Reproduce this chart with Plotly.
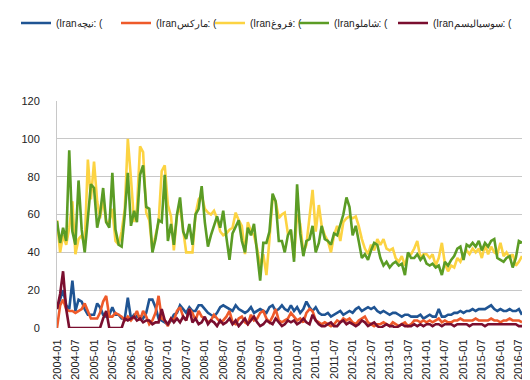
import pandas as pd
import plotly.graph_objects as go

months = pd.date_range("2004-01-01", "2016-08-01", freq="MS")

names = ["(Iranنیچه: (", "(Iranمارکس: (", "(Iranفروغ: (", "(Iranشاملو: (", "(Iranسوسیالیسم: ("]
colors = ["#1F5493", "#EE5A2A", "#FCD342", "#5B9C25", "#7A0E2F"]

nietzsche = [10, 15, 20, 12, 10, 25, 9, 15, 14, 10, 7, 7, 7, 13, 11, 7, 6, 7, 11, 7,
             7, 5, 5, 16, 5, 7, 6, 6, 5, 8, 15, 15, 11, 5, 4, 3, 2, 4, 7,
             8, 12, 10, 8, 11, 9, 9, 12, 12, 10, 8, 7, 6, 8, 11, 12, 11, 10, 9, 12,
             10, 9, 8, 9, 11, 8, 9, 10, 9, 8, 11, 12, 9, 10, 12, 10, 9,
             12, 9, 11, 8, 10, 14, 11, 9, 11, 8, 7, 7, 8, 6, 7, 8, 9, 7, 8, 9,
             8, 10, 11, 9, 10, 11, 10, 11, 9, 8, 9, 8, 7, 8, 8, 7, 6, 7,
             7, 6, 6, 6, 7, 5, 6, 7, 6, 6, 10, 6, 6, 7, 7, 8, 8, 9, 8, 9,
             9, 10, 9, 10, 10, 10, 11, 12, 10, 9, 10, 9, 9, 10, 9, 9, 10, 7]

marx = [0, 12, 15, 10, 9, 9, 8, 9, 10, 13, 9, 5, 5, 5, 8, 14, 17, 6, 6, 8,
        7, 6, 4, 6, 4, 6, 9, 4, 9, 6, 2, 4, 8, 17, 5, 4, 1, 5, 4,
        9, 11, 6, 4, 10, 8, 4, 9, 6, 5, 3, 4, 7, 5, 3, 4, 6, 9, 3, 2,
        5, 6, 3, 2, 7, 4, 5, 8, 9, 5, 3, 6, 10, 4, 3, 4, 5,
        8, 6, 4, 5, 3, 8, 10, 9, 4, 3, 2, 3, 2, 1, 2, 4, 3, 5, 4, 5,
        3, 2, 4, 5, 6, 3, 2, 1, 2, 2, 3, 2, 1, 3, 2, 1, 2, 3,
        1, 2, 4, 4, 3, 4, 3, 4, 3, 4, 5, 3, 4, 3, 3, 4, 4, 5, 4, 4,
        4, 4, 5, 4, 4, 4, 4, 5, 4, 4, 3, 4, 4, 5, 4, 4, 4, 3]

forough = [57, 40, 49, 44, 53, 67, 39, 47, 49, 44, 89, 68, 88, 67, 58, 68, 56, 56, 63, 46,
           44, 51, 63, 100, 79, 56, 63, 96, 93, 61, 57, 41, 49, 56, 83, 86, 65, 59, 41,
           60, 64, 51, 40, 40, 40, 60, 68, 70, 63, 61, 60, 62, 58, 51, 49, 50, 52, 53, 61,
           57, 54, 39, 56, 51, 49, 42, 33, 39, 28, 47, 69, 67, 58, 60, 61, 50,
           51, 37, 60, 55, 40, 44, 60, 73, 51, 65, 54, 49, 46, 40, 49, 54, 46, 56, 58, 59,
           58, 59, 54, 47, 42, 39, 44, 41, 47, 44, 47, 42, 41, 42, 37, 35, 38, 33,
           39, 39, 42, 46, 37, 39, 39, 37, 39, 33, 37, 45, 34, 30, 33, 32, 37, 35, 39, 41,
           39, 42, 40, 42, 37, 44, 39, 43, 40, 39, 45, 38, 40, 37, 39, 33, 35, 38]

shamlou = [56.5, 45, 53, 46, 94, 51, 44, 78, 52, 40, 58, 76, 74, 53, 60, 74, 56, 53, 82, 52,
           44, 43, 60, 82, 54, 62, 56, 81, 86, 64, 63, 40, 47, 57, 56, 81, 46, 55, 44,
           60, 69, 51, 47, 55, 44, 60, 63, 75, 56, 43, 49, 54, 59, 53, 62, 48, 36, 50, 54,
           57, 46, 40, 53, 49, 55, 40, 25, 45, 45, 51, 71, 67, 46, 46, 40, 49,
           52, 35, 76, 50, 38, 46, 47, 54, 40, 45, 54, 47, 46, 44, 50, 49, 54, 60, 69, 64,
           49, 54, 46, 37, 39, 36, 41, 45, 44, 37, 33, 35, 32, 34, 35, 33, 34, 28,
           40, 37, 37, 39, 36, 38, 34, 33, 34, 32, 33, 28, 35, 33, 36, 38, 42, 43, 36, 44,
           43, 45, 43, 46, 41, 45, 43, 46, 47, 37, 36, 35, 37, 38, 32, 37, 46, 45]

socialism = [10, 18, 30, 10, 0, 0, 0, 0, 0, 0, 0, 0, 0, 0, 0, 5, 9, 0, 0, 0,
             0, 0, 5, 4, 5, 6, 4, 5, 3, 4, 4, 2, 3, 3, 10, 4, 2, 5, 3,
             5, 3, 6, 4, 10, 3, 5, 2, 3, 6, 2, 4, 3, 1, 4, 2, 3, 5, 2, 4,
             1, 3, 5, 2, 4, 6, 3, 1, 2, 4, 3, 2, 5, 3, 1, 2, 4,
             3, 4, 2, 3, 5, 3, 2, 7, 4, 2, 1, 1, 2, 3, 1, 1, 3, 4, 2, 3,
             2, 1, 2, 4, 3, 1, 2, 3, 1, 0, 1, 2, 1, 1, 0, 1, 2, 1,
             1, 1, 2, 1, 2, 1, 2, 2, 1, 2, 2, 1, 2, 2, 2, 1, 2, 2, 2, 2,
             1, 2, 2, 2, 2, 1, 2, 2, 2, 2, 2, 2, 2, 2, 2, 2, 1, 1]

series = [nietzsche, marx, forough, shamlou, socialism]
legend_ids = ["legend", "legend2", "legend3", "legend4", "legend5"]
legend_x_px = [8, 108, 202, 286, 385]

fig = go.Figure()
for name, color, vals, lid in zip(names, colors, series, legend_ids):
    fig.add_trace(go.Scatter(x=months, y=vals, mode="lines", name=name, legend=lid,
                             line=dict(color=color, width=2.6)))

W, H = 530, 380
legend_common = dict(orientation="h", xanchor="left", y=1 - 15 / H, yanchor="middle",
                     yref="container", xref="container",
                     font=dict(size=10, color="#222222"), itemwidth=30,
                     bgcolor="rgba(0,0,0,0)", borderwidth=0)
layout_legends = {lid: dict(legend_common, x=px / W) for lid, px in zip(legend_ids, legend_x_px)}

fig.update_layout(
    width=W, height=H,
    margin=dict(l=49, r=16, t=93, b=60, autoexpand=False),
    paper_bgcolor="white", plot_bgcolor="white",
    font=dict(family="Liberation Sans, Arial, sans-serif", size=11, color="#222222"),
    showlegend=True,
    **layout_legends,
)
fig.update_xaxes(
    type="date", range=[months[0], months[-1]], automargin=False,
    tick0="2004-01-01", dtick="M6", tickformat="%Y-%m", tickangle=-90,
    showgrid=False, zeroline=False, showline=False,
    ticks="outside", ticklen=6, tickcolor="rgba(0,0,0,0)",
    tickfont=dict(size=11, color="#222222"),
)
fig.update_yaxes(
    range=[0, 120], dtick=20, showgrid=True, gridcolor="#C8C8C8", gridwidth=1,
    zeroline=False, showline=True, linecolor="#C8C8C8", mirror=True, automargin=False,
    ticks="outside", ticklen=14, tickcolor="rgba(0,0,0,0)",
    tickfont=dict(size=11, color="#222222"),
)

fig.write_html("out.html")
